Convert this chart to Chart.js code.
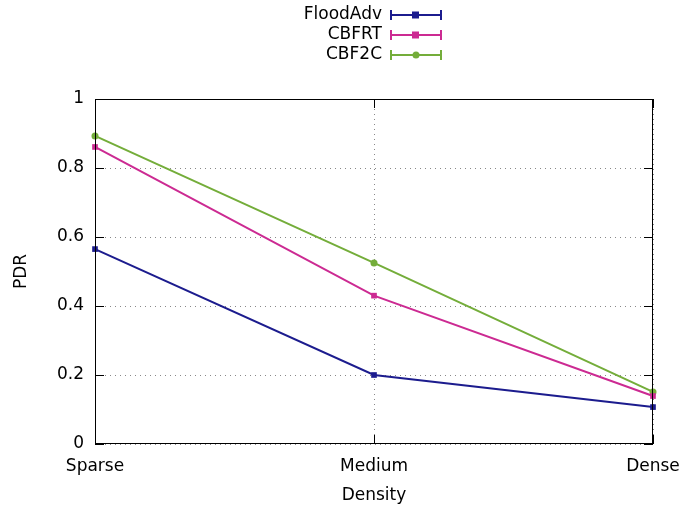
<!DOCTYPE html>
<html>
<head>
<meta charset="UTF-8">
<script src="https://cdn.jsdelivr.net/npm/chart.js"></script>
<style>
    body { margin: 0; background: #fff; }
    #wrap { width: 694px; height: 508px; }
</style>
</head>
<body>
<div id="wrap"><canvas id="c"></canvas></div>
<script>
    const categories = ['Sparse', 'Medium', 'Dense'];
    const floodAdv = [0.565, 0.2, 0.107];
    const cbfrt = [0.861, 0.43, 0.139];
    const cbf2c = [0.893, 0.525, 0.151];
    const yTicks = [0, 0.2, 0.4, 0.6, 0.8, 1];

    const FONT = "'DejaVu Sans', sans-serif";

    function toPoints(arr) {
        return arr.map((v, i) => ({ x: i, y: v }));
    }

    const series = [
        { label: 'FloodAdv', data: floodAdv, color: '#1c1c8e', style: 'rect' },
        { label: 'CBFRT', data: cbfrt, color: '#cc2a92', style: 'rect' },
        { label: 'CBF2C', data: cbf2c, color: '#74ad3a', style: 'circle' }
    ];

    // frame, inward ticks, gnuplot-like legend and axis titles
    const decor = {
        id: 'decor',
        afterDraw(chart) {
            const ctx = chart.ctx;
            const a = chart.chartArea;
            const xs = chart.scales.x, ys = chart.scales.y;
            ctx.save();
            ctx.strokeStyle = '#000';
            ctx.lineWidth = 1;
            ctx.strokeRect(a.left + 0.5, a.top + 0.5, a.right - a.left - 1, a.bottom - a.top - 1);
            ctx.beginPath();
            yTicks.forEach(t => {
                const py = Math.round(ys.getPixelForValue(t)) + 0.5;
                ctx.moveTo(a.left, py); ctx.lineTo(a.left + 9, py);
                ctx.moveTo(a.right, py); ctx.lineTo(a.right - 9, py);
            });
            categories.forEach((c, i) => {
                const px = Math.round(xs.getPixelForValue(i)) + 0.5;
                ctx.moveTo(px, a.bottom); ctx.lineTo(px, a.bottom - 9);
                ctx.moveTo(px, a.top); ctx.lineTo(px, a.top + 9);
            });
            ctx.stroke();

            // legend
            ctx.font = '17px ' + FONT;
            ctx.textAlign = 'right';
            ctx.textBaseline = 'middle';
            series.forEach((s, i) => {
                const y = 15 + i * 20;
                ctx.fillStyle = '#000';
                ctx.fillText(s.label, 382, y);
                ctx.strokeStyle = s.color;
                ctx.fillStyle = s.color;
                ctx.lineWidth = 2;
                ctx.beginPath();
                ctx.moveTo(391, y); ctx.lineTo(441, y);
                ctx.moveTo(391, y - 5); ctx.lineTo(391, y + 5);
                ctx.moveTo(441, y - 5); ctx.lineTo(441, y + 5);
                ctx.stroke();
                if (s.style === 'rect') {
                    ctx.fillRect(412, y - 3.5, 7, 7);
                } else {
                    ctx.beginPath();
                    ctx.arc(416, y, 3.5, 0, Math.PI * 2);
                    ctx.fill();
                }
            });

            // axis titles
            ctx.fillStyle = '#000';
            ctx.textAlign = 'center';
            ctx.fillText('Density', (a.left + a.right) / 2, 496);
            ctx.translate(22, (a.top + a.bottom) / 2);
            ctx.rotate(-Math.PI / 2);
            ctx.fillText('PDR', 0, 0);
            ctx.restore();
        }
    };

    new Chart(document.getElementById('c'), {
        type: 'line',
        data: {
            datasets: series.map(s => ({
                label: s.label,
                data: toPoints(s.data),
                borderColor: s.color,
                backgroundColor: s.color,
                borderWidth: 2,
                pointStyle: s.style,
                pointRadius: s.style === 'rect' ? 4 : 3.5,
                pointBorderWidth: 0,
                tension: 0,
                clip: false
            }))
        },
        options: {
            responsive: true,
            maintainAspectRatio: false,
            animation: false,
            layout: { padding: { left: 0, right: 41, top: 99, bottom: 0 } },
            plugins: { legend: { display: false }, tooltip: { enabled: false } },
            scales: {
                x: {
                    type: 'linear',
                    min: 0,
                    max: 2,
                    afterFit: s => { s.height = 64; },
                    afterBuildTicks: s => { s.ticks = categories.map((c, i) => ({ value: i })); },
                    ticks: {
                        callback: v => categories[v],
                        color: '#000',
                        font: { family: FONT, size: 17 },
                        padding: 12,
                        maxRotation: 0,
                        autoSkip: false
                    },
                    grid: { color: '#888', drawTicks: false },
                    border: { display: false, dash: [1, 4] }
                },
                y: {
                    min: 0,
                    max: 1,
                    afterFit: s => { s.width = 95; },
                    afterBuildTicks: s => { s.ticks = yTicks.map(v => ({ value: v })); },
                    ticks: {
                        callback: v => String(v),
                        color: '#000',
                        font: { family: FONT, size: 17 },
                        padding: 11
                    },
                    grid: { color: '#888', drawTicks: false },
                    border: { display: false, dash: [1, 4] }
                }
            }
        },
        plugins: [decor]
    });
</script>
</body>
</html>
